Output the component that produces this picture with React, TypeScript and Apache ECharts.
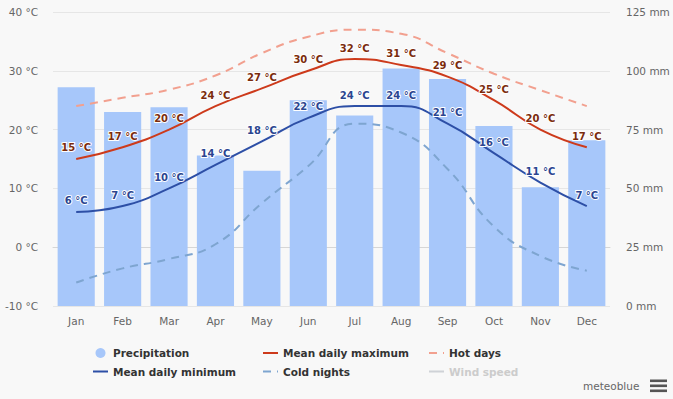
import React, { useEffect, useRef } from "react";
import * as echarts from "echarts";

const months = ["Jan", "Feb", "Mar", "Apr", "May", "Jun", "Jul", "Aug", "Sep", "Oct", "Nov", "Dec"];
const precipitation = [93, 82.5, 84.5, 64, 57.5, 87.5, 81, 101, 96.5, 76.5, 50.5, 70.5];
const meanMax = [15, 17, 20, 24, 27, 30, 32, 31, 29, 25, 20, 17];
const meanMin = [6, 7, 10, 14, 18, 22, 24, 24, 21, 16, 11, 7];
const hotDays = [24, 25.4, 26.8, 29.2, 33, 35.8, 37, 36.3, 33, 29.5, 26.7, 24];
const coldNights = [-6, -3.6, -2, 0.5, 7.5, 13.8, 21, 19.5, 13.3, 3.5, -1.5, -4];
const windSpeed: number[] = [];

const FONT = "'DejaVu Sans', Verdana, sans-serif";

export default function App() {
  const ref = useRef<HTMLDivElement>(null);
  useEffect(() => {
    if (!ref.current) return;
    const chart = echarts.init(ref.current, undefined, { renderer: "svg" });
    const legendText = { fontFamily: FONT, fontSize: 10.5, fontWeight: "bold" as const, color: "#333" };
    const legendBase = {
      orient: "vertical" as const,
      top: 347.5,
      itemWidth: 15,
      itemHeight: 10,
      itemGap: 7.5,
      padding: 0,
      textStyle: legendText,
      inactiveColor: "#cccccc",
      itemStyle: { opacity: 0 },
    };
    const tempLabel = (color: string) => ({
      show: true,
      position: "top" as const,
      distance: 6,
      formatter: (p: any) => `${p.value} °C`,
      color,
      fontFamily: FONT,
      fontSize: 10,
      fontWeight: "bold" as const,
      textBorderColor: "#ffffff",
      textBorderWidth: 2,
    });
    chart.setOption({
      animation: false,
      backgroundColor: "#f8f8f8",
      grid: { left: 53, right: 63, top: 12, bottom: 93 },
      legend: [
        {
          ...legendBase,
          left: 92,
          data: [
            { name: "Precipitation", icon: "circle", itemStyle: { opacity: 1 } },
            "Mean daily minimum",
          ],
        },
        { ...legendBase, left: 262, data: ["Mean daily maximum", "Cold nights"] },
        {
          ...legendBase,
          left: 428,
          data: ["Hot days", "Wind speed"],
          selected: { "Wind speed": false },
        },
      ],
      xAxis: {
        type: "category",
        data: months,
        boundaryGap: true,
        axisLine: { lineStyle: { color: "#d6d6d6" } },
        axisTick: { show: false },
        axisLabel: { color: "#666", fontFamily: FONT, fontSize: 10.5, margin: 9 },
      },
      yAxis: [
        {
          type: "value",
          min: -10,
          max: 40,
          interval: 10,
          axisLabel: { formatter: "{value} °C", color: "#666", fontFamily: FONT, fontSize: 10.5, margin: 15 },
          splitLine: { lineStyle: { color: "#e6e6e6" } },
          axisLine: { show: false },
          axisTick: { show: false },
        },
        {
          type: "value",
          min: 0,
          max: 125,
          interval: 25,
          position: "right",
          axisLabel: { formatter: "{value} mm", color: "#666", fontFamily: FONT, fontSize: 10.5, margin: 16 },
          splitLine: { show: false },
          axisLine: { show: false },
          axisTick: { show: false },
        },
      ],
      series: [
        {
          name: "Precipitation",
          type: "bar",
          yAxisIndex: 1,
          data: precipitation,
          barWidth: "80%",
          itemStyle: { color: "#a7c7fa" },
          z: 1,
        },
        {
          name: "Mean daily maximum",
          type: "line",
          data: meanMax,
          smooth: true,
          symbol: "circle",
          symbolSize: 0.01,
          showSymbol: true,
          color: "#cd3a1b",
          lineStyle: { width: 2, color: "#cd3a1b" },
          label: tempLabel("#7b2c0d"),
          z: 5,
        },
        {
          name: "Hot days",
          type: "line",
          data: hotDays,
          smooth: true,
          symbol: "none",
          color: "#f2a08f",
          lineStyle: { width: 2, color: "#f2a08f", type: [8, 6] },
          z: 3,
        },
        {
          name: "Mean daily minimum",
          type: "line",
          data: meanMin,
          smooth: true,
          symbol: "circle",
          symbolSize: 0.01,
          showSymbol: true,
          color: "#2d4fa6",
          lineStyle: { width: 2, color: "#2d4fa6" },
          label: tempLabel("#2b4590"),
          z: 5,
        },
        {
          name: "Cold nights",
          type: "line",
          data: coldNights,
          smooth: true,
          symbol: "none",
          color: "#7ea5d0",
          lineStyle: { width: 2, color: "#7ea5d0", type: [8, 6] },
          z: 3,
        },
        {
          name: "Wind speed",
          type: "line",
          data: windSpeed,
          symbol: "none",
          color: "#bbbbbb",
          lineStyle: { width: 2, color: "#bbbbbb" },
        },
      ],
      graphic: [
        {
          type: "text",
          left: 583,
          top: 380.5,
          style: { text: "meteoblue", fill: "#666", font: `10.5px ${FONT}` },
        },
        { type: "rect", shape: { x: 650, y: 379.5, width: 17, height: 2.6 }, style: { fill: "#555" } },
        { type: "rect", shape: { x: 650, y: 384.5, width: 17, height: 2.6 }, style: { fill: "#555" } },
        { type: "rect", shape: { x: 650, y: 389.5, width: 17, height: 2.6 }, style: { fill: "#555" } },
      ],
    });
    return () => chart.dispose();
  }, []);
  return (
    <div
      ref={ref}
      style={{ position: "fixed", left: 0, top: 0, width: 673, height: 399 }}
    />
  );
}
